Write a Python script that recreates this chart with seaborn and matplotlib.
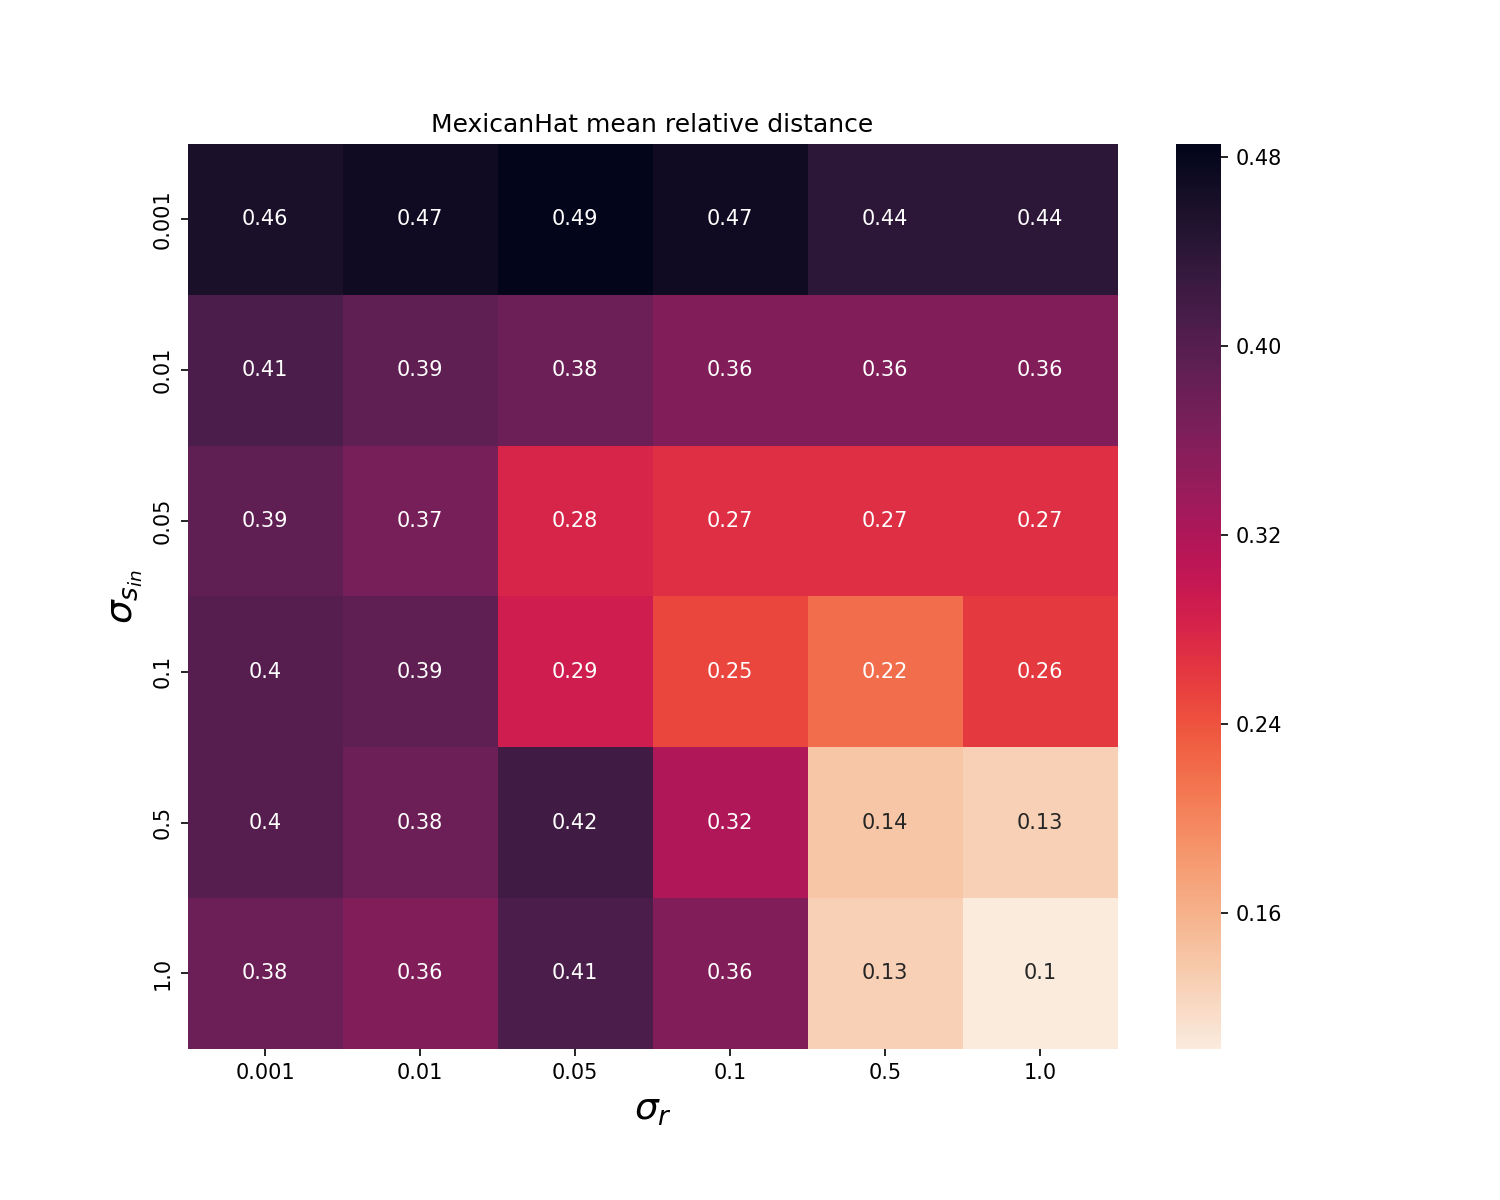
import numpy as np
import pandas as pd
import matplotlib
matplotlib.use("Agg")
import matplotlib.pyplot as plt
import matplotlib.ticker as mticker
import seaborn as sns

sigma_r = ["0.001", "0.01", "0.05", "0.1", "0.5", "1.0"]
sigma_s_in = ["0.001", "0.01", "0.05", "0.1", "0.5", "1.0"]

# mean relative distance, rows = sigma_s_in, cols = sigma_r
row_0001 = [0.46, 0.47, 0.4855, 0.47, 0.44, 0.44]
row_001 = [0.41, 0.39, 0.38, 0.36, 0.36, 0.36]
row_005 = [0.39, 0.37, 0.28, 0.27, 0.27, 0.27]
row_01 = [0.40, 0.39, 0.29, 0.25, 0.22, 0.26]
row_05 = [0.40, 0.38, 0.42, 0.32, 0.14, 0.13]
row_10 = [0.38, 0.36, 0.41, 0.36, 0.13, 0.1024]

df = pd.DataFrame([row_0001, row_001, row_005, row_01, row_05, row_10],
                  index=sigma_s_in, columns=sigma_r)

fig, ax = plt.subplots(figsize=(10, 8))
fig.subplots_adjust(bottom=0.126)
sns.heatmap(df, annot=True, cmap="rocket_r", ax=ax)
cbar = ax.collections[0].colorbar
cbar.locator = mticker.MultipleLocator(0.08)
cbar.update_ticks()
ax.set_title("MexicanHat mean relative distance")
ax.set_xlabel(r"$\sigma_r$", fontsize=18)
ax.set_ylabel(r"$\sigma_{s_{in}}$", fontsize=18)
plt.savefig("out.png", dpi=150)
